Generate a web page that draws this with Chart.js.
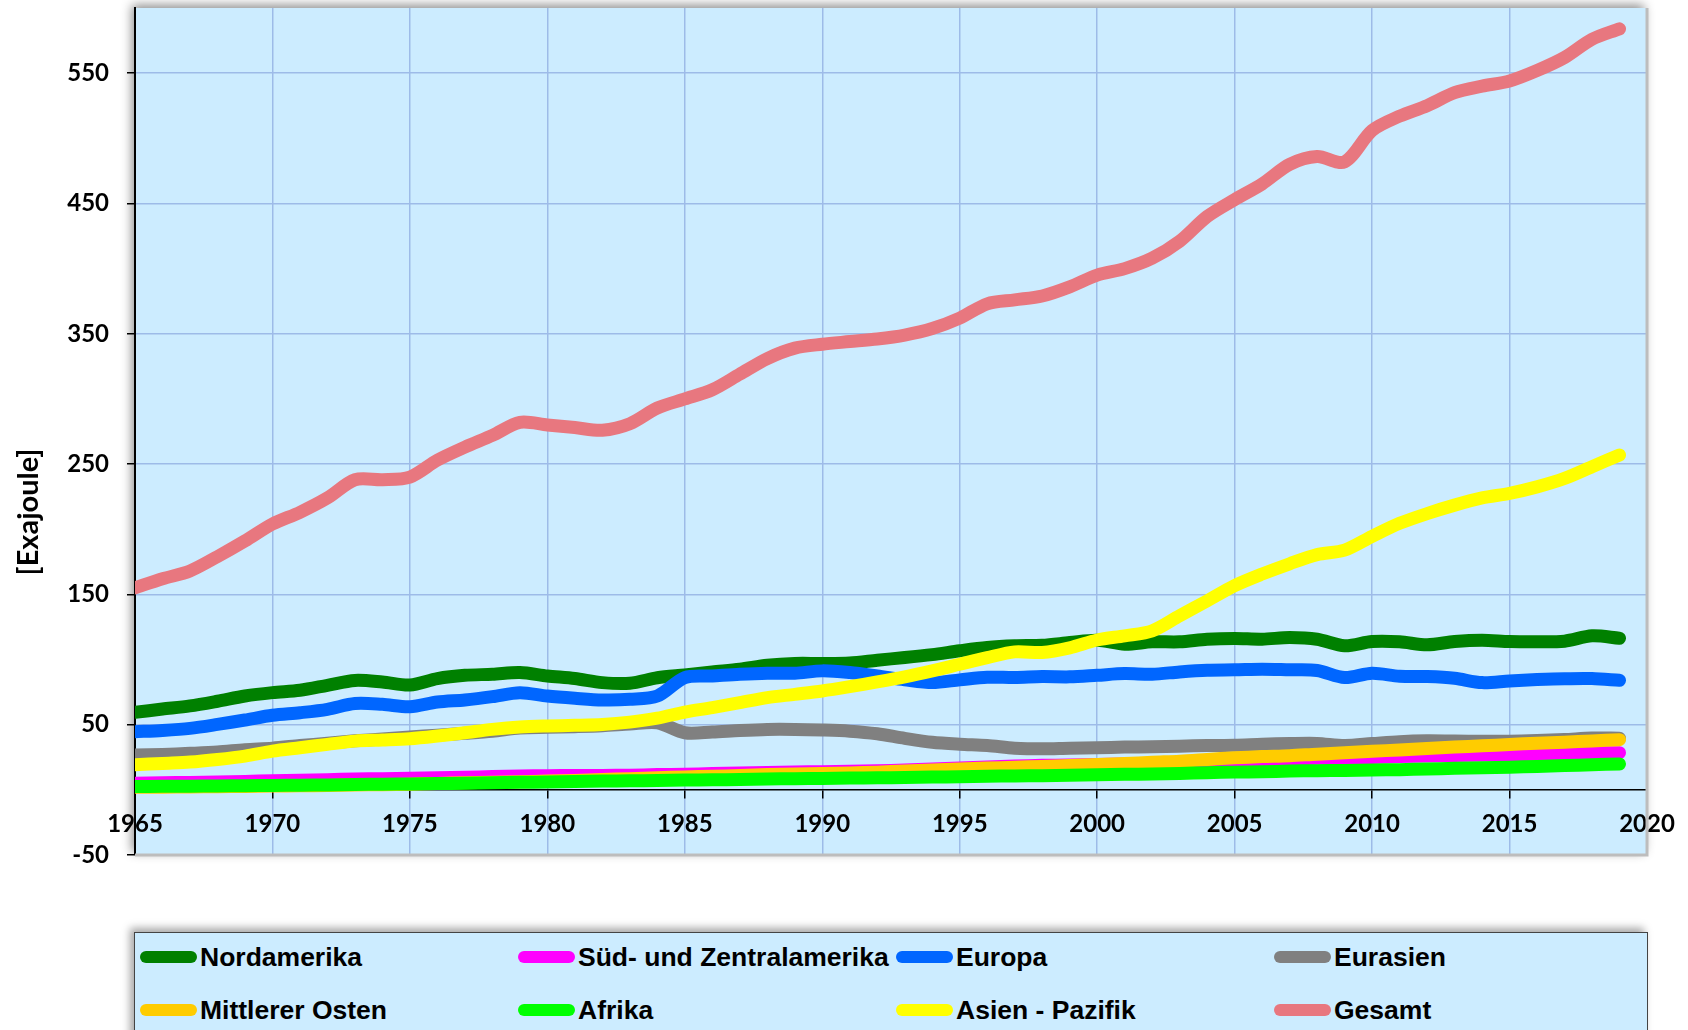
<!DOCTYPE html>
<html lang="de">
<head>
    <meta charset="UTF-8">
    <title>Primärenergieverbrauch nach Regionen</title>
    <script src="https://cdn.jsdelivr.net/npm/chart.js"></script>
    <style>
        body { margin: 0; background: #fff; width: 1688px; height: 1030px; overflow: hidden; position: relative; }
        #chartBox { position: absolute; left: 0; top: 0; width: 1688px; height: 870px; }
        .legend {
            position: absolute; left: 134px; top: 932px; width: 1512px; height: 130px;
            background: #ccecff; border: 1px solid #444;
            box-shadow: -4px -4px 8px rgba(0,0,0,0.35);
        }
        .item {
            position: absolute; height: 30px; display: flex; align-items: center;
            font: bold 26.5px "Liberation Sans", Arial, sans-serif; color: #000; white-space: nowrap;
        }
        .swatch { width: 57px; height: 12px; border-radius: 6px; margin-right: 3px; }
    </style>
</head>
<body>
    <div id="chartBox"><canvas id="myChart"></canvas></div>
    <div class="legend" id="legend"></div>

    <script>
        // Primärenergieverbrauch 1965-2019 in Exajoule
        const years = Array.from({ length: 55 }, (_, i) => 1965 + i);
        const xTicks = [1965, 1970, 1975, 1980, 1985, 1990, 1995, 2000, 2005, 2010, 2015, 2020];
        const yTicks = [-50, 50, 150, 250, 350, 450, 550];

        const nordamerika = [59.5, 62, 64.4, 68, 72, 74.6, 76.4, 80.2, 84, 82.8, 80.5, 85.4, 87.9, 88.7, 90,
            87.4, 85.4, 82.3, 81.8, 86, 88.2, 90.5, 92.6, 95.6, 97,
            97, 97.4, 99.5, 101.5, 103.8, 106.7, 109.2, 110.5, 111, 113,
            114.8, 111.8, 113.6, 113.6, 115.6, 116.2, 115.6, 116.9, 115.6, 110.5,
            113.8, 113.6, 111.3, 113.8, 114.8, 113.8, 113.6, 114.1, 118.2, 116.4];
        const suedZentral = [5.1, 5.4, 5.7, 6.1, 6.5, 7.0, 7.4, 7.8, 8.3, 8.6, 8.9, 9.3, 9.7, 10.2, 10.6,
            10.9, 11.0, 11.1, 11.2, 11.7, 12.0, 12.5, 13.0, 13.4, 13.7,
            13.9, 14.3, 14.6, 15.2, 16.0, 16.8, 17.5, 18.3, 18.8, 19.0,
            19.5, 19.8, 20.0, 20.4, 21.3, 22.0, 22.8, 23.6, 24.2, 24.1,
            24.8, 25.5, 26.0, 26.4, 26.8, 27.0, 27.4, 27.9, 28.3, 28.5];
        const europa = [44.6, 45.6, 47.2, 50.2, 53.6, 57.2, 59.2, 61.8, 66.2, 65.6, 63.8, 67.4, 69, 71.5, 74.6,
            72, 70.3, 69, 69.5, 72, 86.2, 87.4, 88.7, 89.5, 89.5,
            91.3, 90, 87.4, 84.4, 82.3, 84.4, 86.4, 86.2, 86.9, 86.7,
            87.9, 89.2, 88.7, 90.5, 91.8, 92.1, 92.6, 92.1, 91.6, 86.2,
            89.5, 87.2, 86.9, 85.6, 82.3, 83.6, 84.6, 85.3, 85.4, 84.1];
        const eurasien = [26.7, 27.2, 28, 29, 30.8, 32, 34, 35.8, 37.6, 39, 40.6, 42, 43.4, 45, 47.5,
            48, 48.5, 49.2, 50.5, 51.5, 43.8, 44.4, 45.6, 46.4, 46.4,
            45.9, 45, 43, 39.5, 36.5, 35, 34, 32, 31.5, 32,
            32.3, 32.8, 33, 33.5, 34, 34.2, 35, 35.5, 35.6, 34,
            35.5, 37, 37.6, 37.4, 37.3, 37.3, 37.8, 38.6, 39.8, 39.6];
        const mittlererOsten = [1.9, 2.0, 2.2, 2.4, 2.6, 2.9, 3.1, 3.4, 3.8, 4.0, 4.3, 4.9, 5.4, 5.8, 6.3,
            6.7, 7.2, 8.0, 8.6, 9.3, 9.9, 10.4, 11.0, 11.7, 12.2,
            12.6, 12.9, 13.6, 14.4, 15.2, 16.0, 16.7, 17.4, 18.0, 18.6,
            19.4, 20.2, 21.2, 22.0, 23.3, 24.6, 25.5, 26.2, 27.4, 28.4,
            29.6, 30.6, 31.8, 32.8, 33.8, 34.8, 35.8, 36.6, 37.5, 38.5];
        const afrika = [2.6, 2.7, 2.8, 3.0, 3.2, 3.4, 3.6, 3.8, 4.1, 4.3, 4.5, 4.8, 5.1, 5.5, 5.8,
            6.0, 6.4, 6.7, 6.9, 7.2, 7.5, 7.7, 7.9, 8.3, 8.6,
            8.8, 9.0, 9.2, 9.5, 9.8, 10.1, 10.4, 10.7, 10.9, 11.2,
            11.6, 11.9, 12.2, 12.6, 13.2, 13.6, 13.9, 14.4, 14.7, 14.9,
            15.2, 15.5, 16.0, 16.5, 17.0, 17.4, 18.0, 18.6, 19.3, 19.9];
        const asienPazifik = [19.2, 20.3, 21.3, 23.3, 25.9, 29.7, 32.3, 34.9, 37.4, 38.2, 39.2, 41.3, 43.8, 46.4, 48.2,
            49, 49.5, 50.2, 52, 55, 59.7, 63.1, 66.9, 70.8, 73.3,
            75.9, 79.2, 82.8, 86.7, 91.3, 96.4, 101.5, 105.9, 105.4, 109,
            115, 118.2, 122, 133.6, 145, 156.7, 165.6, 173.5, 180.5, 184,
            194.5, 204.5, 212, 218.5, 224, 227.5, 232.5, 239, 248, 257];
        const gesamt = [155, 162, 168, 179, 191, 204, 213, 224, 238, 238, 240, 253, 263, 272, 282,
            280, 278, 276, 281, 293, 300, 307, 319, 331, 339,
            342, 344, 346, 349, 354, 362, 373, 376, 379, 386,
            395, 400, 408, 421, 440, 453, 465, 480, 486, 482,
            506, 517, 525, 535, 540, 544, 552, 562, 576, 584];

        const seriesNames = ['Nordamerika', 'Süd- und Zentralamerika', 'Europa', 'Eurasien',
            'Mittlerer Osten', 'Afrika', 'Asien - Pazifik', 'Gesamt'];
        const seriesValues = [nordamerika, suedZentral, europa, eurasien, mittlererOsten, afrika, asienPazifik, gesamt];
        const seriesColors = ['#008000', '#ff00ff', '#0066ff', '#808080', '#ffcc00', '#00ff00', '#ffff00', '#e8777f'];

        const plotColor = '#ccecff';
        const gridColor = '#9dbbe8';
        const tickFont = { family: 'Lato', weight: 'bold', size: 24 };

        // Legende als HTML
        const legend = document.getElementById('legend');
        seriesNames.forEach((name, i) => {
            const col = i % 4, row = Math.floor(i / 4);
            const item = document.createElement('div');
            item.className = 'item';
            item.style.left = (5 + col * 378) + 'px';
            item.style.top = (9 + row * 53) + 'px';
            item.innerHTML = `<span class="swatch" style="background:${seriesColors[i]}"></span>${name}`;
            legend.appendChild(item);
        });

        // Hintergrund der Zeichenfläche mit Schatten
        const plotBg = {
            id: 'plotBg',
            beforeDraw(chart) {
                const { ctx, chartArea: a } = chart;
                ctx.save();
                ctx.shadowColor = 'rgba(0,0,0,0.45)';
                ctx.shadowBlur = 10;
                ctx.shadowOffsetX = -3;
                ctx.shadowOffsetY = -3;
                ctx.fillStyle = plotColor;
                ctx.fillRect(a.left, a.top, a.right - a.left, a.bottom - a.top);
                ctx.restore();
            },
            beforeDatasetsDraw(chart) {
                const { ctx, chartArea: a } = chart;
                ctx.save();
                ctx.strokeStyle = '#bdbdbd';
                ctx.lineWidth = 3;
                ctx.beginPath();
                ctx.moveTo(a.right, a.top);
                ctx.lineTo(a.right, a.bottom);
                ctx.lineTo(a.left, a.bottom);
                ctx.stroke();
                ctx.restore();
            },
            afterDraw(chart) {
                // Achsentitel
                const { ctx } = chart;
                ctx.save();
                ctx.translate(29, 512);
                ctx.rotate(-Math.PI / 2);
                ctx.font = 'bold 29px Lato';
                ctx.fillStyle = '#000';
                ctx.textAlign = 'center';
                ctx.textBaseline = 'middle';
                ctx.fillText('[Exajoule]', 0, 0);
                ctx.restore();
            }
        };

        const ctx = document.getElementById('myChart').getContext('2d');
        new Chart(ctx, {
            type: 'line',
            data: {
                datasets: seriesNames.map((name, i) => ({
                    label: name,
                    data: years.map((yr, j) => ({ x: yr, y: seriesValues[i][j] })),
                    borderColor: seriesColors[i],
                    backgroundColor: seriesColors[i],
                    borderWidth: 13,
                    borderCapStyle: 'round',
                    borderJoinStyle: 'round',
                    pointRadius: 0,
                    tension: 0.3,
                    fill: false,
                    order: seriesNames.length - i
                }))
            },
            options: {
                responsive: true,
                maintainAspectRatio: false,
                animation: false,
                layout: { padding: { top: 8, right: 41, left: 0, bottom: 15 } },
                plugins: {
                    legend: { display: false },
                    tooltip: { enabled: false }
                },
                scales: {
                    x: {
                        type: 'linear',
                        min: 1965,
                        max: 2020,
                        position: { y: 0 },
                        afterBuildTicks: s => { s.ticks = xTicks.map(v => ({ value: v })); },
                        afterFit: s => { s.height = 0; s.paddingLeft = 0; s.paddingRight = 0; },
                        grid: { color: gridColor, lineWidth: 1.5, tickColor: '#000', tickLength: 8 },
                        border: { display: true, color: '#000', width: 1.5 },
                        ticks: {
                            color: '#000', font: tickFont, padding: 12,
                            maxRotation: 0, autoSkip: false,
                            callback: v => String(v)
                        }
                    },
                    y: {
                        min: -50,
                        max: 600,
                        afterBuildTicks: s => { s.ticks = yTicks.map(v => ({ value: v })); },
                        afterFit: s => { s.width = 135; s.paddingTop = 0; s.paddingBottom = 0; },
                        grid: { color: gridColor, lineWidth: 1.5, tickColor: '#000', tickLength: 8 },
                        border: { display: true, color: '#000', width: 2 },
                        ticks: { color: '#000', font: tickFont, padding: 18, autoSkip: false }
                    }
                }
            },
            plugins: [plotBg]
        });
    </script>
</body>
</html>
